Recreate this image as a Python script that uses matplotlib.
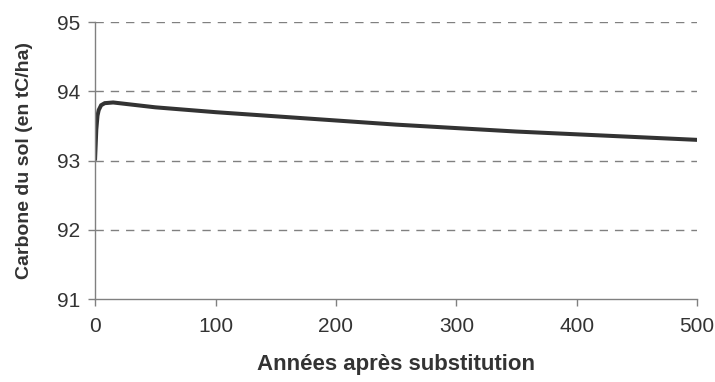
import matplotlib.pyplot as plt

# Années après substitution / carbone du sol (tC/ha)
years = [0, 1, 2, 3, 5, 8, 15, 25, 50, 100, 150, 200, 250, 300, 350, 400, 450, 500]
carbon = [93.03, 93.45, 93.65, 93.73, 93.80, 93.83, 93.84, 93.82, 93.77, 93.70,
          93.64, 93.58, 93.52, 93.47, 93.42, 93.38, 93.34, 93.30]

x_ticks = [0, 100, 200, 300, 400, 500]
y_ticks = [91, 92, 93, 94, 95]

plt.rcParams["font.family"] = ["Liberation Sans", "DejaVu Sans"]

fig = plt.figure(figsize=(7.15, 3.82), dpi=100)
ax = fig.add_axes([0.133, 0.217, 0.842, 0.725])

ax.plot(years, carbon, color="#333333", linewidth=2.9, solid_joinstyle="miter")

ax.set_xlim(0, 500)
ax.set_ylim(91, 95)
ax.set_xticks(x_ticks)
ax.set_yticks(y_ticks)

for y in y_ticks[1:]:
    ax.axhline(y, color="#808080", linewidth=1, linestyle=(0, (6, 5)), zorder=0)

for side in ["top", "right"]:
    ax.spines[side].set_visible(False)
for side in ["left", "bottom"]:
    ax.spines[side].set_color("#808080")
    ax.spines[side].set_linewidth(1)

ax.tick_params(axis="both", direction="out", length=5, width=1, color="#808080",
               labelsize=15, labelcolor="#333333")
ax.tick_params(axis="x", pad=8)
ax.tick_params(axis="y", pad=6)

ax.set_xlabel("Années après substitution", fontsize=16, fontweight="bold",
              color="#333333", labelpad=13)
ax.set_ylabel("Carbone du sol (en tC/ha)", fontsize=14, fontweight="bold",
              color="#333333", labelpad=17)

plt.savefig("out.png", dpi=100)
plt.close()
